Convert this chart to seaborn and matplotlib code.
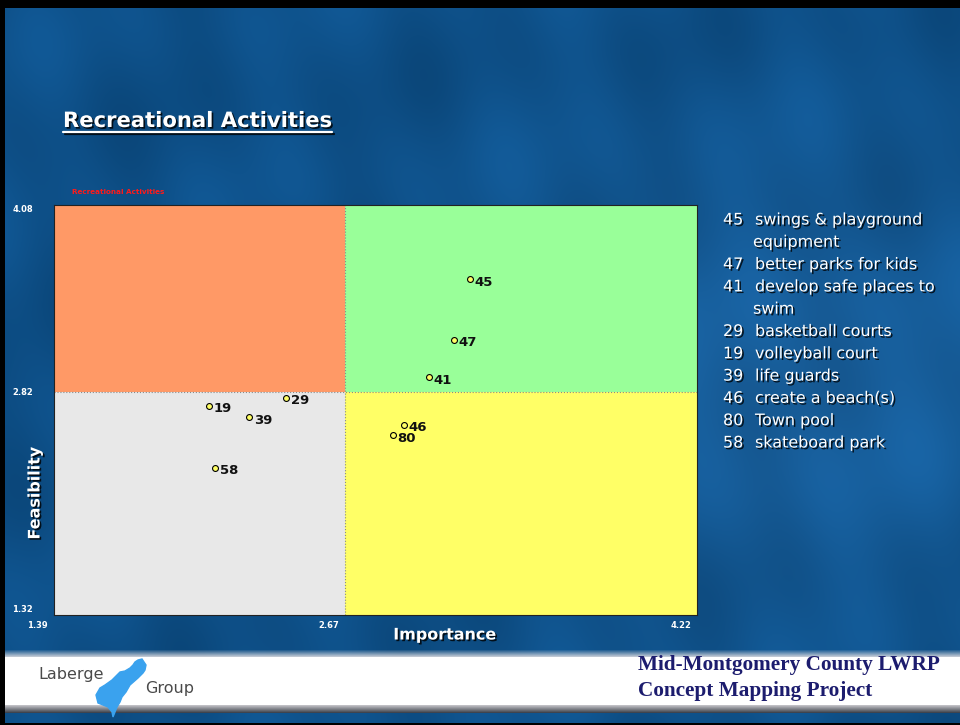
import numpy as np
import matplotlib
matplotlib.use("Agg")
import matplotlib.pyplot as plt
import matplotlib.patheffects as pe
from matplotlib.transforms import ScaledTranslation
import seaborn as sns
import pandas as pd

# statement ids, importance (x) and feasibility (y) ratings
ids = ["45", "47", "41", "29", "19", "39", "46", "80", "58"]
importance = [3.22, 3.15, 3.04, 2.41, 2.07, 2.25, 2.93, 2.88, 2.10]
feasibility = [3.58, 3.17, 2.92, 2.78, 2.73, 2.65, 2.60, 2.53, 2.31]

# legend lines at the right (number, text); wrapped lines have no number
legend_rows = [
    ("45", "swings & playground"), ("", "equipment"),
    ("47", "better parks for kids"),
    ("41", "develop safe places to"), ("", "swim"),
    ("29", "basketball courts"),
    ("19", "volleyball court"),
    ("39", "life guards"),
    ("46", "create a beach(s)"),
    ("80", "Town pool"),
    ("58", "skateboard park"),
]

x_min, x_mid, x_max = 1.39, 2.67, 4.22
y_min, y_mid, y_max = 1.32, 2.82, 4.08

df = pd.DataFrame({"id": ids, "importance": importance, "feasibility": feasibility})

sns.set_style("white")
plt.rcParams["font.family"] = ["DejaVu Sans"]

W, H = 960, 725
fig = plt.figure(figsize=(W / 100, H / 100), dpi=100)

# ---- slide background (blue texture + white footer band) ----
yy, xx = np.mgrid[0:H, 0:W].astype(float)
shade = (0.5 + 0.10 * np.sin(xx / 41.0 + yy / 97.0) + 0.07 * np.sin(xx / 17.0 - yy / 53.0)
         + 0.08 * np.sin(yy / 29.0 + xx / 211.0))
light = np.exp(-(((xx - 800) / 300.0) ** 2 + ((yy - 380) / 220.0) ** 2))
dark_c = np.array([0.03, 0.24, 0.42])
mid_c = np.array([0.06, 0.33, 0.56])
lite_c = np.array([0.12, 0.42, 0.68])
img = dark_c + (mid_c - dark_c) * shade[..., None] * 1.6 + (lite_c - mid_c) * 0.7 * light[..., None]
img = np.clip(img, 0, 1)
# footer band
top, bot = 653, 705
for r in range(top - 4, top + 4):
    t = (r - (top - 4)) / 8.0
    img[r, :] = img[r, :] * (1 - t) + np.array([0.85, 0.85, 0.87]) * t
img[top + 4:bot, :] = 1.0
for r in range(bot, bot + 8):
    t = (r - bot) / 8.0
    g = np.array([0.75, 0.75, 0.77]) * (1 - t) + np.array([0.18, 0.20, 0.24]) * t
    img[r, :] = g
# black frame
img[:8, :] = 0
img[:, :5] = 0
img[-2:, :] = 0

bg = fig.add_axes([0, 0, 1, 1])
bg.imshow(img, extent=[0, W, H, 0], aspect="auto", interpolation="bilinear")
bg.set_xlim(0, W)
bg.set_ylim(H, 0)
bg.axis("off")

# Laberge Group logo (rough map outline)
logo = [(138, 660), (142, 659), (146, 665), (145, 670), (143, 673), (138, 678), (130, 685),
        (126, 692), (122, 697), (120, 702), (117, 707), (115, 712), (113, 717), (112, 712),
        (108, 707), (103, 705), (98, 703), (96, 695), (100, 688), (105, 685), (112, 680),
        (117, 675), (120, 672), (125, 671), (130, 668), (133, 665), (135, 662)]
bg.add_patch(plt.Polygon(logo, closed=True, color="#3aa2ee", zorder=3))
bg.text(38, 674, "Laberge", fontsize=11.5, color="#4a4a4a", va="center", ha="left", zorder=4)
bg.text(145, 688, "Group", fontsize=11.5, color="#4a4a4a", va="center", ha="left", zorder=4)

bg.text(638, 665, "Mid-Montgomery County LWRP", family="Liberation Serif", fontweight="bold",
        fontsize=15.3, color="#1c1c6e", va="center", ha="left")
bg.text(638, 691, "Concept Mapping Project", family="Liberation Serif", fontweight="bold",
        fontsize=15.3, color="#1c1c6e", va="center", ha="left")

shadow = [pe.withSimplePatchShadow(offset=(1.2, -1.2), shadow_rgbFace="black", alpha=0.8)]

title = bg.text(63, 121, "Recreational Activities", fontsize=15.2, fontweight="bold",
                color="white", va="center", ha="left", path_effects=shadow)
bg.text(72, 192, "Recreational Activities", fontsize=5.2, fontweight="bold",
        color="#ff1a1a", va="center", ha="left")

# legend at right
for i, (num, txt) in enumerate(legend_rows):
    yrow = 220 + i * 22.3
    if num:
        bg.text(723, yrow, num, fontsize=11.5, color="white", va="center", ha="left",
                path_effects=shadow)
    bg.text(755 if num else 753, yrow, txt, fontsize=11.5, color="white", va="center",
            ha="left", path_effects=shadow)

# ---- the quadrant chart ----
ax = fig.add_axes([54 / W, 1 - 615 / H, 643 / W, 410 / H])
ax.set_xlim(x_min, x_max)
ax.set_ylim(y_min, y_max)
ax.fill_between([x_min, x_mid], y_mid, y_max, color="#ff9966", lw=0)
ax.fill_between([x_mid, x_max], y_mid, y_max, color="#99ff99", lw=0)
ax.fill_between([x_min, x_mid], y_min, y_mid, color="#e8e8e8", lw=0)
ax.fill_between([x_mid, x_max], y_min, y_mid, color="#ffff66", lw=0)
ax.axvline(x_mid, color="#8a8a8a", ls=":", lw=0.8)
ax.axhline(y_mid, color="#8a8a8a", ls=":", lw=0.8)

sns.scatterplot(data=df, x="importance", y="feasibility", ax=ax, color="#ffff66",
                edgecolor="black", linewidth=0.8, s=18, zorder=5, legend=False)
for _, row in df.iterrows():
    ax.annotate(row["id"], (row["importance"], row["feasibility"]), xytext=(3.5, -2),
                textcoords="offset points", fontsize=9.5, fontweight="bold", color="#111111",
                va="center", ha="left", zorder=6)

for s in ax.spines.values():
    s.set_color("#222222")
    s.set_linewidth(0.8)

ax.set_xticks([x_min, x_mid, x_max])
ax.set_xticklabels([f"{v:.2f}" for v in (x_min, x_mid, x_max)])
ax.set_yticks([y_min, y_mid, y_max])
ax.set_yticklabels([f"{v:.2f}" for v in (y_min, y_mid, y_max)])
ax.tick_params(axis="both", length=0, labelsize=6, labelcolor="white")
ax.tick_params(axis="x", pad=4)
ax.tick_params(axis="y", pad=30)
for lab in ax.get_xticklabels():
    lab.set_fontweight("bold")
    lab.set_ha("right")
    lab.set_transform(lab.get_transform() + ScaledTranslation(-6 / 100, 0, fig.dpi_scale_trans))
# the y labels in the slide sit a little inside the plot range
for lab, dy in zip(ax.get_yticklabels(), (6, 1, -4)):
    lab.set_fontweight("bold")
    lab.set_ha("left")
    lab.set_transform(lab.get_transform() + ScaledTranslation(0, dy / 100, fig.dpi_scale_trans))

ax.set_xlabel("")
ax.set_ylabel("")
bg.text(445, 635, "Importance", fontsize=11.5, fontweight="bold", color="white",
        ha="center", va="center", path_effects=shadow)
bg.text(35, 493, "Feasibility", fontsize=11.5, fontweight="bold", color="white",
        ha="center", va="center", rotation=90, path_effects=shadow)

# underline the slide title
fig.canvas.draw()
bb = title.get_window_extent()
x0, _ = bg.transData.inverted().transform((bb.x0, bb.y0))
x1, ybot = bg.transData.inverted().transform((bb.x1, bb.y0))
bg.plot([x0, x1], [ybot + 1, ybot + 1], color="white", lw=1.6,
        path_effects=[pe.SimpleLineShadow(offset=(1.2, -1.2), shadow_color="black", alpha=0.8),
                      pe.Normal()])

fig.savefig("out.png", dpi=100)
